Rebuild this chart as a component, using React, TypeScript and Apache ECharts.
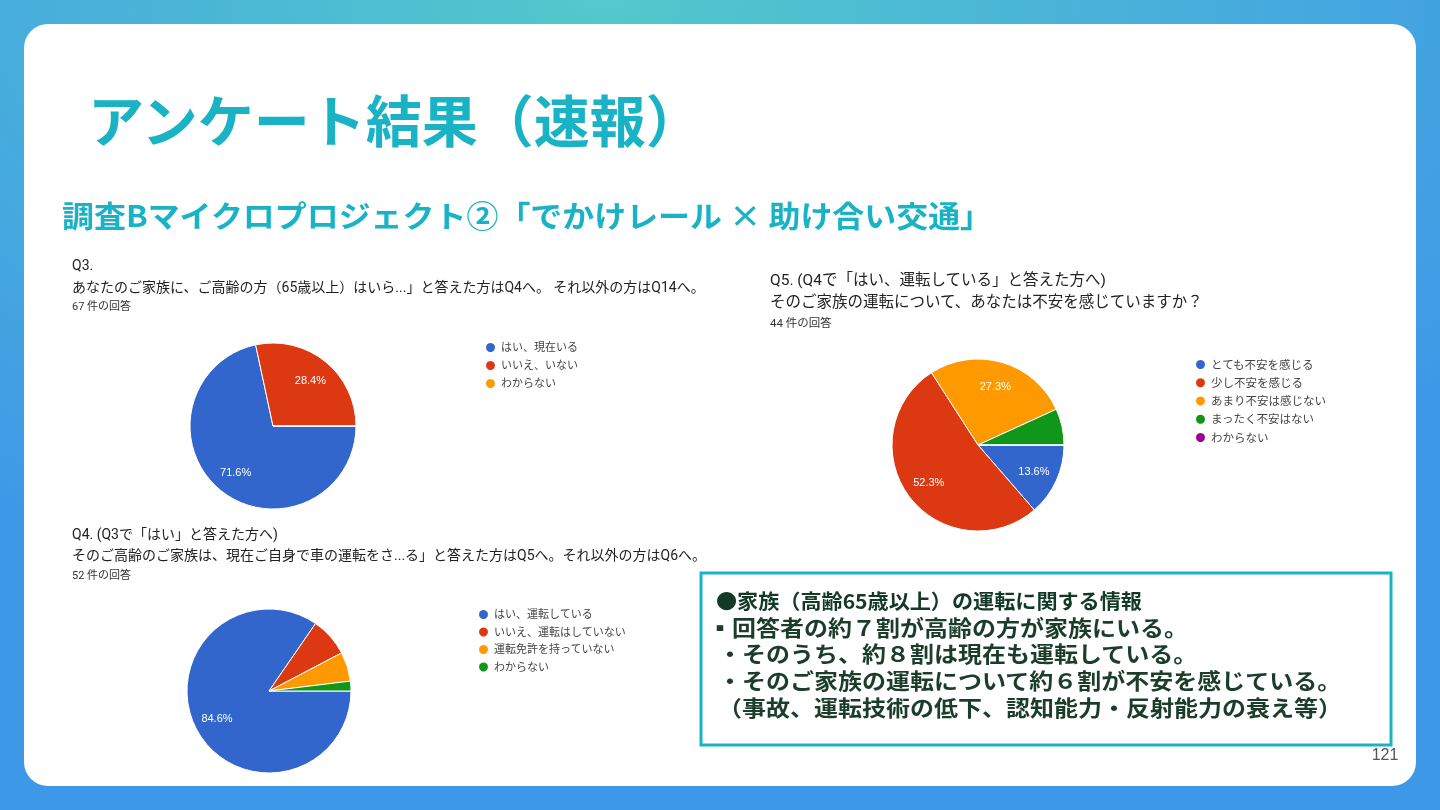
import React, { useEffect, useRef } from "react";
import * as echarts from "echarts";

const colors = ["#3366cc", "#dc3912", "#ff9900", "#109618", "#990099"];

const q3Names = ["はい、現在いる", "いいえ、いない", "わからない"];
const q3Values = [48, 19, 0];

const q4Names = ["はい、運転している", "いいえ、運転はしていない", "運転免許を持っていない", "わからない"];
const q4Values = [44, 4, 3, 1];

const q5Names = ["とても不安を感じる", "少し不安を感じる", "あまり不安は感じない", "まったく不安はない", "わからない"];
const q5Values = [6, 23, 12, 3, 0];

const titleText = "アンケート結果（速報）";
const subtitleText = "調査Bマイクロプロジェクト②「でかけレール × 助け合い交通」";
const q3Lines = ["Q3.", "あなたのご家族に、ご高齢の方（65歳以上）はいら...」と答えた方はQ4へ。 それ以外の方はQ14へ。", "67 件の回答"];
const q4Lines = ["Q4. (Q3で「はい」と答えた方へ)", "そのご高齢のご家族は、現在ご自身で車の運転をさ...る」と答えた方はQ5へ。それ以外の方はQ6へ。", "52 件の回答"];
const q5Lines = ["Q5. (Q4で「はい、運転している」と答えた方へ)", "そのご家族の運転について、あなたは不安を感じていますか？", "44 件の回答"];
const infoHead = "●家族（高齢65歳以上）の運転に関する情報";
const infoLines = [
  "▪回答者の約７割が高齢の方が家族にいる。",
  "・そのうち、約８割は現在も運転している。",
  "・そのご家族の運転について約６割が不安を感じている。",
  "（事故、運転技術の低下、認知能力・反射能力の衰え等）",
];
const pageNo = "121";

const GFONT = "Roboto, 'Noto Sans CJK JP', sans-serif";
const JFONT = "'Noto Sans CJK JP', sans-serif";
const TEAL = "#19b3c5";

function pieSeries(names: string[], values: number[], cx: number, cy: number, r: number) {
  const data = names.map((n, i) => ({ name: n, value: values[i], itemStyle: { color: colors[i] } }));
  const main = {
    type: "pie",
    center: [cx, cy],
    radius: r,
    startAngle: 0,
    clockwise: true,
    silent: true,
    label: { show: false },
    labelLine: { show: false },
    itemStyle: { borderColor: "#ffffff", borderWidth: 1 },
    data,
  };
  const overlay = {
    type: "pie",
    center: [cx, cy],
    radius: [r * 0.36, r],
    startAngle: 0,
    clockwise: true,
    silent: true,
    z: 3,
    itemStyle: { color: "rgba(0,0,0,0)", borderWidth: 0 },
    label: {
      show: true,
      position: "inside",
      color: "#ffffff",
      fontSize: 11,
      fontFamily: "'Liberation Sans', Arial, sans-serif",
      formatter: (p: any) => (p.percent >= 10 ? p.percent.toFixed(1) + "%" : ""),
    },
    labelLine: { show: false },
    data: names.map((n, i) => ({ name: n, value: values[i] })),
  };
  return [main, overlay];
}

function legendOf(names: string[], left: number, top: number, fontSize: number, gap: number) {
  return {
    orient: "vertical",
    left,
    top,
    icon: "circle",
    itemWidth: 11,
    itemHeight: 11,
    itemGap: gap,
    selectedMode: false,
    textStyle: { fontSize, color: "#444444", fontFamily: GFONT, lineHeight: 12 },
    data: names.map((n, i) => ({ name: n, itemStyle: { color: colors[i] } })),
  };
}

function qText(lines: string[], x: number, ys: number[], fs: number, fsSmall: number) {
  return lines.map((t, i) => ({
    type: "text",
    x,
    y: ys[i],
    z: 5,
    style: {
      text: t,
      fill: i === 2 ? "#333333" : "#222222",
      fontSize: i === 2 ? fsSmall : fs,
      fontFamily: GFONT,
      verticalAlign: "middle",
    },
  }));
}

export default function App() {
  const ref = useRef<HTMLDivElement>(null);
  useEffect(() => {
    if (!ref.current) return;
    const chart = echarts.init(ref.current, undefined, { renderer: "svg" });
    const graphic: any[] = [
      {
        type: "rect",
        z: 0,
        shape: { x: 0, y: 0, width: 1440, height: 810 },
        style: {
          fill: {
            type: "radial",
            x: 0.42,
            y: 0,
            r: 0.75,
            colorStops: [
              { offset: 0, color: "#52c9cb" },
              { offset: 0.5, color: "#48b0da" },
              { offset: 1, color: "#3e98e8" },
            ],
          },
        },
      },
      {
        type: "rect",
        z: 1,
        shape: { x: 24, y: 24, width: 1392, height: 762, r: 24 },
        style: { fill: "#ffffff" },
      },
      {
        type: "text",
        x: 88,
        y: 117,
        z: 5,
        style: { text: titleText, fill: TEAL, fontSize: 56, fontWeight: "bold", fontFamily: JFONT, verticalAlign: "middle" },
      },
      {
        type: "text",
        x: 62,
        y: 214,
        z: 5,
        scaleX: 1.065,
        style: { text: subtitleText, fill: TEAL, fontSize: 30, fontWeight: "bold", fontFamily: JFONT, verticalAlign: "middle" },
      },
      ...qText(q3Lines, 72, [265, 287, 306], 14, 11),
      ...qText(q5Lines, 770, [280, 302, 323], 15.5, 11.5),
      ...qText(q4Lines, 72, [534, 555, 575], 14, 11),
      {
        type: "rect",
        z: 4,
        shape: { x: 701, y: 573, width: 690, height: 172 },
        style: { fill: "#ffffff", stroke: TEAL, lineWidth: 3 },
      },
      {
        type: "text",
        x: 716,
        y: 600,
        z: 5,
        scaleX: 0.96,
        scaleY: 0.92,
        style: { text: infoHead, fill: "#123a26", fontSize: 22, lineHeight: 22, fontWeight: "bold", fontFamily: JFONT, verticalAlign: "middle" },
      },
      ...infoLines.map((t, i) => ({
        type: "text",
        x: i === 0 ? 708 : 718,
        y: [627, 653, 680, 707][i],
        z: 5,
        scaleY: 0.9,
        style: { text: t, fill: "#1b3d2a", fontSize: 24, lineHeight: 24, fontWeight: "bold", fontFamily: JFONT, verticalAlign: "middle" },
      })),
      {
        type: "text",
        x: 1385,
        y: 754,
        z: 5,
        style: { text: pageNo, fill: "#555555", fontSize: 16, fontFamily: "'Liberation Sans', Arial, sans-serif", align: "center", verticalAlign: "middle" },
      },
    ];
    chart.setOption({
      animation: false,
      graphic,
      legend: [
        legendOf(q3Names, 479, 336, 11, 5),
        legendOf(q5Names, 1189, 353, 11.5, 5.25),
        legendOf(q4Names, 472, 603, 11, 4.5),
      ],
      series: [
        ...pieSeries(q3Names, q3Values, 273, 426, 83),
        ...pieSeries(q5Names, q5Values, 978, 445, 86),
        ...pieSeries(q4Names, q4Values, 269, 691, 82),
      ],
    });
    return () => chart.dispose();
  }, []);
  return (
    <div
      ref={ref}
      style={{ position: "fixed", left: 0, top: 0, width: 1440, height: 810 }}
    />
  );
}
